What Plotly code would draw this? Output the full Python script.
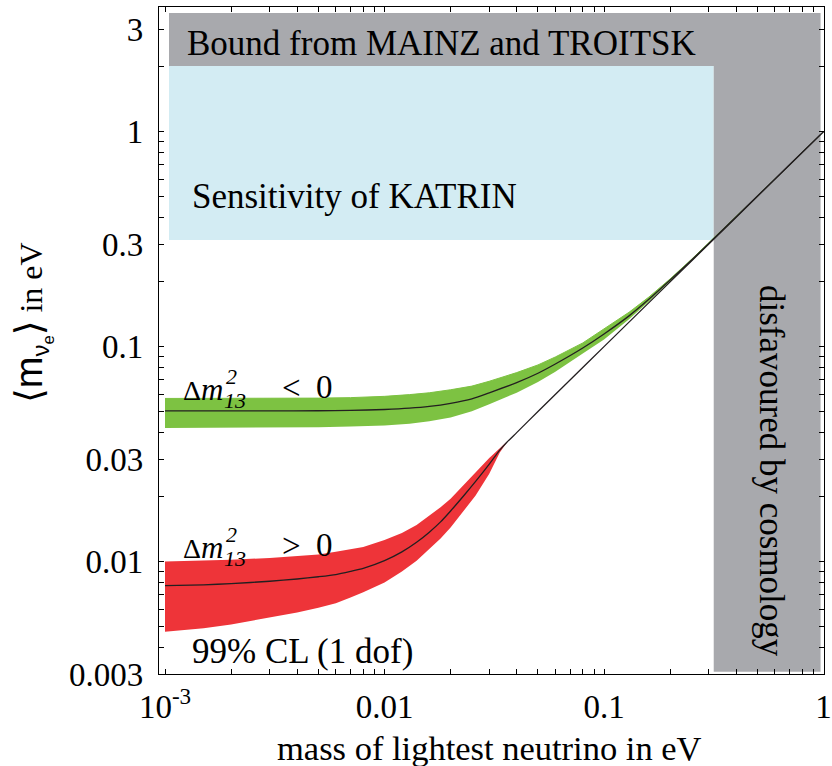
import math
import plotly.graph_objects as go

# ---------------- data ----------------
# inverted hierarchy (Delta m^2_13 < 0), green band
m_inv = [0.001, 0.002, 0.003, 0.005, 0.007, 0.01, 0.013, 0.016, 0.02, 0.025, 0.03, 0.04, 0.05,
         0.06, 0.08, 0.1, 0.13, 0.16, 0.2, 0.25, 0.3, 0.4, 0.5, 0.7, 1.0]
inv_upper = [0.0574, 0.0574, 0.0574, 0.0576, 0.0579, 0.0587, 0.0598, 0.0610, 0.0630, 0.0655, 0.0690,
             0.0757, 0.0822, 0.0895, 0.1040, 0.1215, 0.1445, 0.170, 0.2065, 0.2545, 0.3035, 0.403,
             0.5025, 0.7015, 1.0]
inv_lower = [0.0418, 0.0419, 0.0420, 0.0422, 0.0425, 0.0430, 0.0438, 0.0450, 0.0468, 0.0500, 0.0540,
             0.0610, 0.0685, 0.0765, 0.0930, 0.1080, 0.1340, 0.1620, 0.2015, 0.2495, 0.2995, 0.4,
             0.5, 0.7, 1.0]
inv_center = [0.0502, 0.0502, 0.0502, 0.0503, 0.0505, 0.0510, 0.0517, 0.0527, 0.0545, 0.0572, 0.0610,
              0.0680, 0.0752, 0.0830, 0.0985, 0.1145, 0.139, 0.166, 0.204, 0.252, 0.302, 0.402,
              0.502, 0.701, 1.0]

# normal hierarchy (Delta m^2_13 > 0), red band
m_nor = [0.001, 0.0015, 0.002, 0.003, 0.004, 0.005, 0.006, 0.007, 0.008, 0.01, 0.012, 0.014,
         0.016, 0.018, 0.02, 0.023, 0.026, 0.03, 0.0335, 0.036]
nor_upper = [0.0100, 0.0101, 0.0102, 0.0104, 0.0106, 0.0108, 0.0111, 0.0114, 0.0117, 0.0126, 0.0136,
             0.0148, 0.0163, 0.0179, 0.0196, 0.0228, 0.0262, 0.0303, 0.0337, 0.0360]
nor_lower = [0.00472, 0.0049, 0.0051, 0.0055, 0.0058, 0.0061, 0.0064, 0.0068, 0.0072, 0.0080, 0.0090,
             0.0101, 0.0114, 0.0128, 0.0144, 0.0172, 0.0203, 0.0256, 0.0322, 0.0357]
m_nor_line = m_nor + [0.04, 0.05, 0.07, 0.1, 0.2, 0.3, 0.5, 1.0]
nor_center = [0.00773, 0.0078, 0.0079, 0.0081, 0.0083, 0.0085, 0.0087, 0.0090, 0.0093, 0.0101, 0.0111,
              0.0123, 0.0137, 0.0153, 0.0172, 0.0203, 0.0236, 0.0284, 0.0330, 0.0358,
              0.0398, 0.0499, 0.0699, 0.1, 0.2, 0.3, 0.5, 1.0]

# excluded / sensitivity regions
MAINZ_BOUND = 2.02        # eV, lower edge of the grey top band
KATRIN_SENS = 0.313       # eV, lower edge of the KATRIN box
COSMO_BOUND = 0.316       # eV, left edge of the cosmology band
REGION_XMIN, REGION_XMAX = 0.001043, 0.969
REGION_YMIN, REGION_YMAX = 0.00307, 3.56

x_tickvals = [k * 10 ** e for e in (-3, -2, -1) for k in range(1, 10)] + [1.0]
x_major = {0.001: "10<sup>-3</sup>", 0.01: "0.01", 0.1: "0.1", 1.0: "1"}
y_tickvals = [k * 10 ** e for e in (-3, -2, -1, 0) for k in range(1, 10)
              if 0.003 <= k * 10 ** e <= 3.5]
y_major = {0.003: "0.003", 0.01: "0.01", 0.03: "0.03", 0.1: "0.1", 0.3: "0.3", 1.0: "1", 3.0: "3"}

GREEN = "#7DC242"
RED = "#EE3439"
BLUE = "#D3ECF3"
GREY = "#A8A9AD"
INK = "#231F20"
SERIF = "Liberation Serif"


def label_for(v, majors):
    for k, t in majors.items():
        if abs(v - k) / k < 1e-6:
            return t
    return ""


fig = go.Figure()


def rect(x0, x1, y0, y1, color):
    fig.add_trace(go.Scatter(x=[x0, x1, x1, x0, x0], y=[y0, y0, y1, y1, y0], mode="lines",
                             fill="toself", fillcolor=color, line=dict(width=0),
                             hoverinfo="skip", showlegend=False))


rect(REGION_XMIN, COSMO_BOUND, KATRIN_SENS, MAINZ_BOUND, BLUE)
rect(REGION_XMIN, REGION_XMAX, MAINZ_BOUND, REGION_YMAX, GREY)
rect(COSMO_BOUND, REGION_XMAX, REGION_YMIN, MAINZ_BOUND, GREY)

# green band
fig.add_trace(go.Scatter(x=m_inv, y=inv_lower, mode="lines", line=dict(width=0, color=GREEN),
                         hoverinfo="skip", showlegend=False))
fig.add_trace(go.Scatter(x=m_inv, y=inv_upper, mode="lines", line=dict(width=1, color=GREEN),
                         fill="tonexty", fillcolor=GREEN, hoverinfo="skip", showlegend=False))
# red band
fig.add_trace(go.Scatter(x=m_nor, y=nor_lower, mode="lines", line=dict(width=0, color=RED),
                         hoverinfo="skip", showlegend=False))
fig.add_trace(go.Scatter(x=m_nor, y=nor_upper, mode="lines", line=dict(width=0, color=RED),
                         fill="tonexty", fillcolor=RED, hoverinfo="skip", showlegend=False))
# central lines
fig.add_trace(go.Scatter(x=m_nor_line, y=nor_center, mode="lines",
                         line=dict(width=1.3, shape="spline", smoothing=0.6, color=INK), showlegend=False))
fig.add_trace(go.Scatter(x=m_inv, y=inv_center, mode="lines",
                         line=dict(width=1.3, shape="spline", smoothing=0.6, color=INK), showlegend=False))

L, R, T, B = 159, 824, 7, 674
W, H = 832, 766


def px(xp):
    return (xp - L) / (R - L)


def py(yp):
    return (B - yp) / (B - T)


annos = []


def text(s, xp, yp, size=35, angle=0, xanchor="center", yanchor="middle", family=SERIF):
    annos.append(dict(text=s, x=px(xp), y=py(yp), xref="paper", yref="paper", showarrow=False,
                      xanchor=xanchor, yanchor=yanchor, textangle=angle,
                      font=dict(family=family, size=size, color="black")))


text("Bound from MAINZ and TROITSK", 441.5, 44)
text("Sensitivity of KATRIN", 354.5, 196)
text("disfavoured by cosmology", 772, 471, angle=90)
text("99% CL (1 dof)", 302, 651)
text("mass of lightest neutrino in eV", 489, 748, size=34.5)
BR = "font-family:DejaVu Sans ExtraLight,DejaVu Sans;font-size:38px"
SANS = "font-family:Liberation Sans"
text(f'<span style="{BR}">⟨</span>'
     f'<span style="{SANS};font-size:38px">m</span>'
     f'<span style="{SANS};font-size:34px"><sub>ν<sub>e</sub></sub></span>'
     f'<span style="{BR}">⟩</span>'
     '<span style="font-size:32px"> in eV</span>',
     33, 323, size=32, angle=-90)

# Delta m^2_13 labels
for dy, sign in ((0, "&lt;"), (158, "&gt;")):
    text("Δ", 181, 390 + dy, size=28, xanchor="left")
    text("<i>m</i>", 199, 389 + dy, size=31, xanchor="left")
    text("<i>2</i>", 224, 376 + dy, size=22, xanchor="left")
    text("<i>13</i>", 222, 400 + dy, size=22, xanchor="left")
    text(sign, 280, 388 + dy, size=33, xanchor="left")
    text("0", 314, 387 + dy, size=33, xanchor="left")

axis_common = dict(type="log", showgrid=False, zeroline=False, showline=True, linecolor="black",
                   linewidth=1.3, mirror="allticks", ticks="inside", ticklen=5, tickwidth=1,
                   tickcolor="black", automargin=False,
                   tickfont=dict(family=SERIF, size=33, color="black"))

fig.update_layout(
    width=W, height=H,
    margin=dict(l=L, r=W - R, t=T, b=H - B, autoexpand=False),
    plot_bgcolor="white", paper_bgcolor="white",
    xaxis=dict(range=[math.log10(0.000939), 0.002], tickvals=x_tickvals, ticklabelstandoff=3,
               ticktext=[label_for(v, x_major) for v in x_tickvals], **axis_common),
    yaxis=dict(range=[math.log10(0.003), math.log10(3.8)], tickvals=y_tickvals, ticklabelstandoff=8,
               ticktext=[label_for(v, y_major) for v in y_tickvals], **axis_common),
    annotations=annos,
)

fig.write_html("out.html")
